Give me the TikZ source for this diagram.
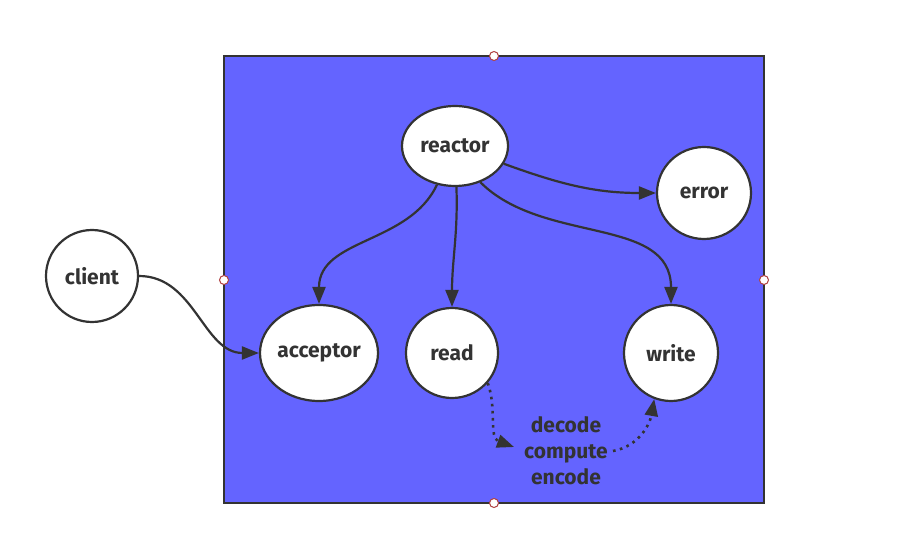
\documentclass[tikz,border=0pt]{standalone}
\usepackage{fontspec}
\setmainfont{Fira Sans}
\usetikzlibrary{shapes.geometric,arrows.meta}
\definecolor{ink}{HTML}{333333}
\definecolor{panel}{HTML}{6464FF}
\definecolor{handle}{HTML}{B04040}
\begin{document}
\begin{tikzpicture}[x=1pt,y=-1pt,
  bubble/.style={ellipse,draw=ink,line width=2.2pt,fill=white,inner sep=0pt,font=\bfseries\fontsize{21}{23}\selectfont,text=ink},
  link/.style={draw=ink,line width=2.2pt,-{Triangle[length=17pt,width=13pt]}},
  dotlink/.style={draw=ink,line width=2.6pt,dash pattern=on 2.6pt off 4.5pt,-{Triangle[length=17pt,width=13pt]}},
  knob/.style={circle,draw=handle,line width=1pt,fill=white,minimum size=9pt,inner sep=0pt}]
\useasboundingbox (0,0) rectangle (902,534);
\fill[white] (0,0) rectangle (902,534);
\draw[fill=panel,draw=ink,line width=2pt] (224,56) rectangle (764,503);
\node[knob] (k1) at (494,56) {};
\node[knob] (k2) at (224,280) {};
\node[knob] (k3) at (764,280) {};
\node[knob] (k4) at (494,503) {};

\node[bubble,minimum width=106pt,minimum height=80pt] (reactor) at (455,146) {reactor};
\node[bubble,minimum width=94pt,minimum height=92pt] (error) at (704,193) {error};
\node[bubble,minimum width=92pt,minimum height=92pt] (client) at (92,276) {client};
\node[bubble,minimum width=118pt,minimum height=96pt] (acceptor) at (319,353) {acceptor};
\node[bubble,minimum width=92pt,minimum height=90pt] (read) at (452,353) {read};
\node[bubble,minimum width=94pt,minimum height=96pt] (write) at (671,353) {write};

\node[text=ink,font=\bfseries\fontsize{21}{26}\selectfont,align=center,inner sep=0pt] (steps) at (566,451) {decode\\compute\\encode};
\coordinate (dtop) at (514,447);
\coordinate (cend) at (613,451);

\draw[link] (reactor.-20) to[out=-20,in=180] (error.west);
\draw[link] (reactor.-115) to[out=-115,in=90] (acceptor.north);
\draw[link] (reactor.-88) to[out=-88,in=90] (read.north);
\draw[link] (reactor.-55) to[out=-45,in=90] (write.north);
\draw[link] (client.east) to[out=0,in=180] (acceptor.west);
\draw[dotlink] (read.-40) to[out=-70,in=160] (dtop);
\draw[dotlink] (cend) to[out=10,in=-100] (write.-110);
\end{tikzpicture}
\end{document}
